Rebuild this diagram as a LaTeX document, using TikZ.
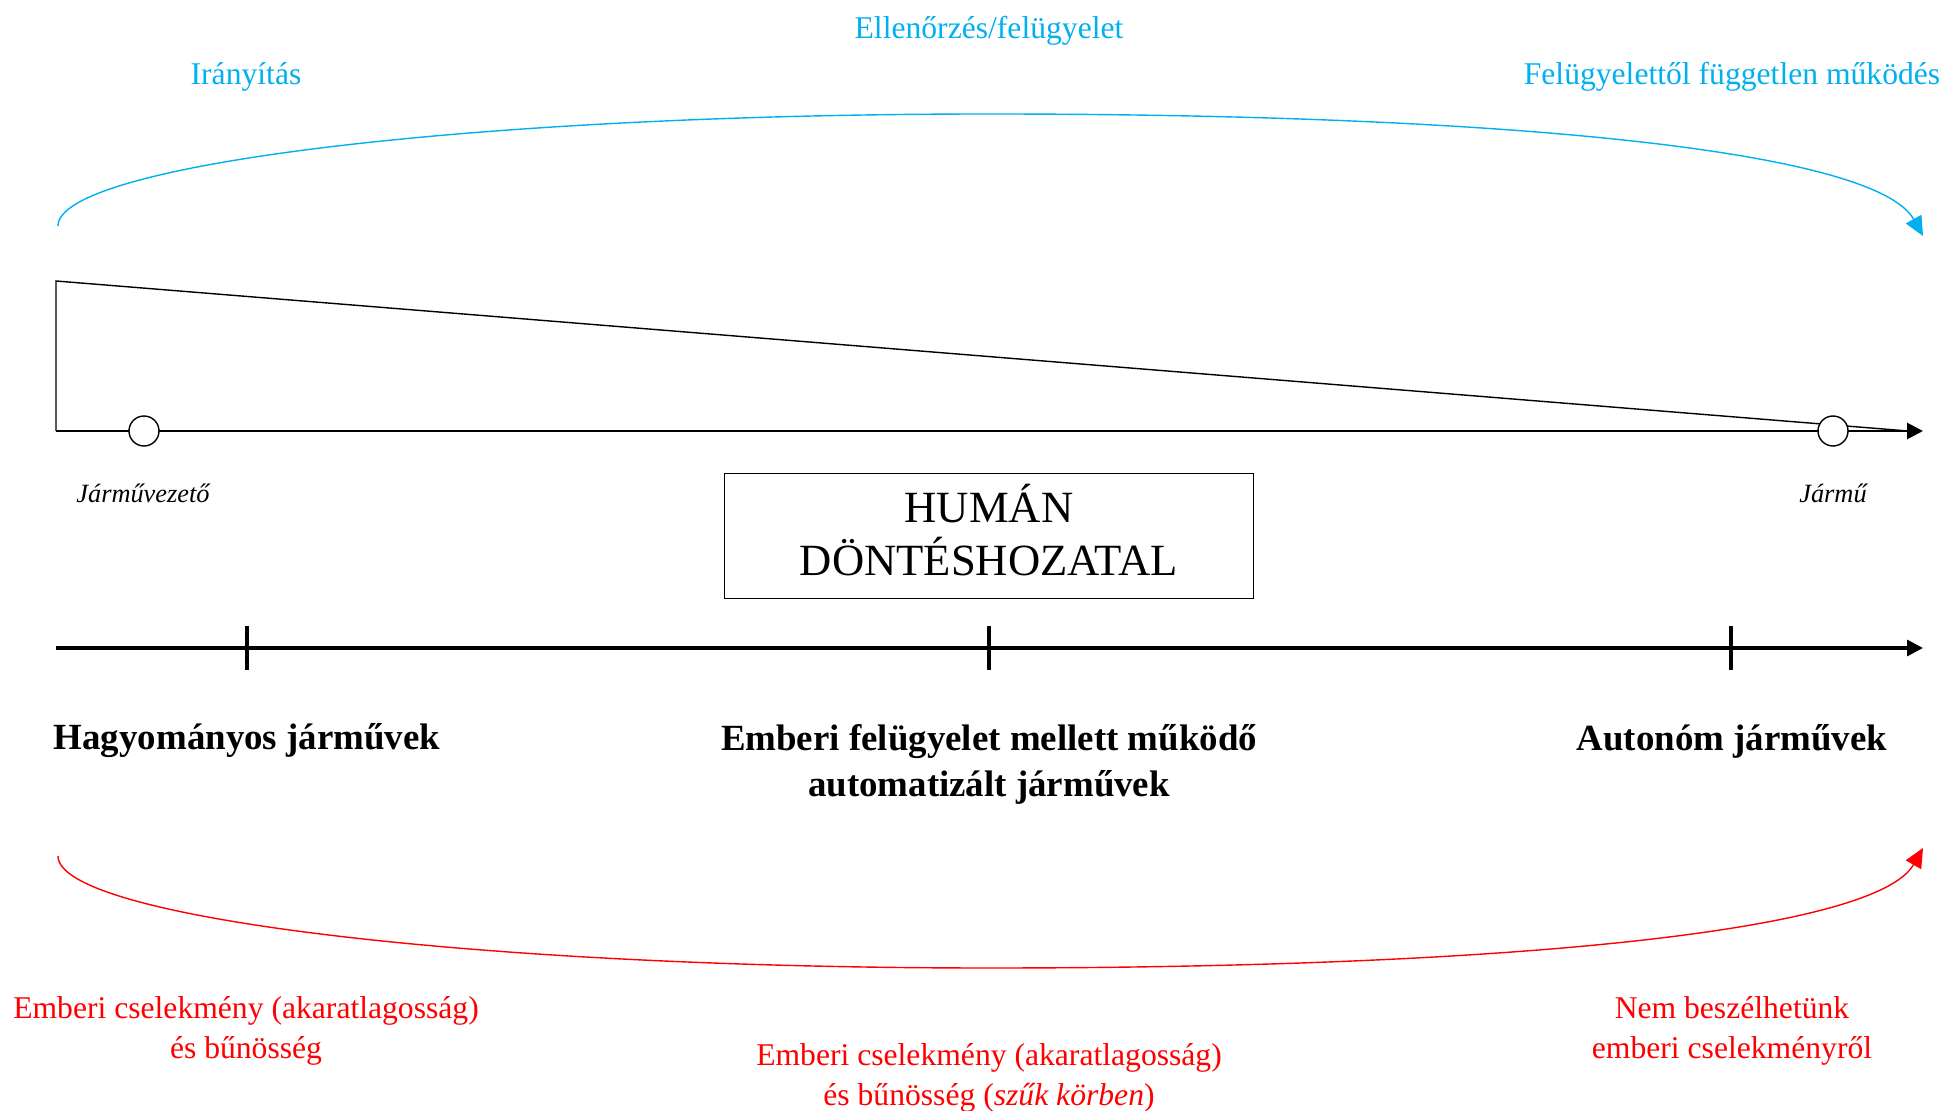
\documentclass[tikz,border=0pt]{standalone}
\usepackage{fontspec}
\setmainfont{Liberation Serif}
\usetikzlibrary{arrows.meta}
\definecolor{kek}{RGB}{0,176,240}
\definecolor{piros}{RGB}{255,0,0}
\begin{document}
\begin{tikzpicture}[x=0.1mm,y=-0.1mm,line width=0.4pt,>={Triangle[length=4.5pt,width=4.5pt]},
  kor/.style={circle,draw,fill=white,inner sep=0pt,minimum size=3mm},
  kektxt/.style={text=kek,font=\fontsize{9}{11.4}\selectfont,align=center},
  pirtxt/.style={text=piros,font=\fontsize{9}{11.4}\selectfont,align=center},
  cim/.style={font=\fontsize{10.5}{13.1}\selectfont\bfseries,align=center},
  dolt/.style={font=\fontsize{7.5}{9}\selectfont\itshape}]
\useasboundingbox (0,0) rectangle (1950,1111);
% iv felul es alul
\coordinate (k1) at (58,226); \coordinate (k2) at (1923,236);
\coordinate (p1) at (58,856); \coordinate (p2) at (1923,848);
\draw[kek,-{Triangle[length=5.5pt,width=5pt]}] (k1) .. controls (58,164) and (475,114) .. (989,114) .. controls (1503,114) and (1875,150) .. (k2);
\draw[piros,-{Triangle[length=5.5pt,width=5pt]}] (p1) .. controls (58,918) and (475,968) .. (989,968) .. controls (1503,968) and (1875,932) .. (p2);
\node[kektxt] (ell) at (989,31) {Ellenőrzés/felügyelet};
\node[kektxt] (iany) at (246,77) {Irányítás};
\node[kektxt] (fugg) at (1732,77) {Felügyelettől független működés};
% felso tengely
\coordinate (a0) at (56,431); \coordinate (a1) at (1923,431);
\coordinate (sarok) at (56,281); \coordinate (csucs) at (1908,431);
\draw (a0) -- (sarok) -- (csucs);
\draw[line width=0.75pt,->] (a0) -- (a1);
\node[kor] (vezeto) at (144,431) {};
\node[kor] (jarmu) at (1833,431) {};
\node[dolt] (vezetotxt) at (143,493) {Járművezető};
\node[dolt] (jarmutxt) at (1833,493) {Jármű};
\node[draw,minimum width=52.9mm,minimum height=12.5mm,inner ysep=1pt,align=center,font=\fontsize{12.7}{15.1}\selectfont] (dontes) at (989,536) {HUMÁN\\DÖNTÉSHOZATAL\rule[-3.4pt]{0pt}{0pt}};
% also tengely
\coordinate (b0) at (56,648); \coordinate (b1) at (1923,648);
\draw[line width=0.9pt,->] (b0) -- (b1);
\foreach \x/\n in {247/t1,989/t2,1731/t3}{\coordinate (\n) at (\x,648); \draw[line width=0.9pt] (\n) ++(0,-22) -- ++(0,44);};
\node[cim] (hagy) at (247,741) {Hagyományos járművek};
\node[cim] (feluj) at (989,764) {Emberi felügyelet mellett működő\\automatizált járművek};
\node[cim] (auto) at (1732,741) {Autonóm járművek};
\node[pirtxt] (bun1) at (246,1031) {Emberi cselekmény (akaratlagosság)\\és bűnösség};
\node[pirtxt] (bun2) at (989,1078) {Emberi cselekmény (akaratlagosság)\\és bűnösség (\textit{szűk körben})};
\node[pirtxt] (bun3) at (1732,1031) {Nem beszélhetünk\\emberi cselekményről};
\end{tikzpicture}
\end{document}
